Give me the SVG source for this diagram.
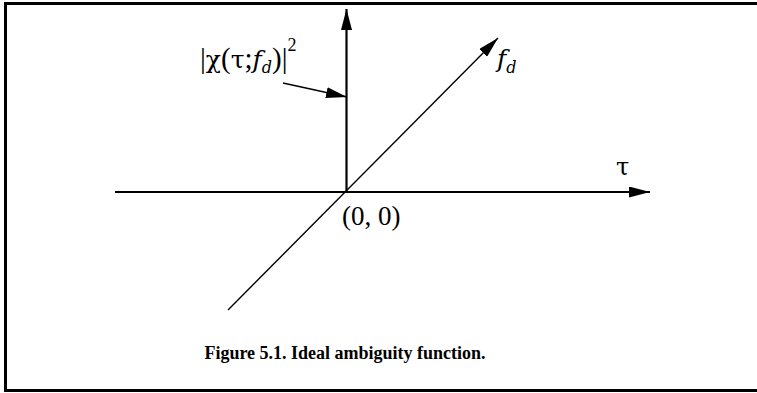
<svg xmlns="http://www.w3.org/2000/svg" width="757" height="393" viewBox="0 0 757 393">
<style>
.t{font-family:"Liberation Serif",serif;fill:#000}
.g{font-family:"DejaVu Serif",serif}
.ax{stroke:#000;stroke-width:2.2;fill:none}
.th{stroke:#000;stroke-width:1.4;fill:none}
</style>
<defs>
<marker id="ah" viewBox="0 0 21 11" refX="21" refY="5.5" markerWidth="21" markerHeight="11" markerUnits="userSpaceOnUse" orient="auto">
<path d="M0,0 L21,5.5 L0,11 z" fill="#000"/>
</marker>
</defs>
<rect width="757" height="393" fill="#fff"/>
<path d="M757,3.5 H5.5 V390.5 H757" fill="none" stroke="#000" stroke-width="3"/>
<g id="connectors">
<line class="ax" x1="115" y1="192" x2="650" y2="192" marker-end="url(#ah)"/>
<line class="ax" x1="346.5" y1="192" x2="346.5" y2="9" marker-end="url(#ah)"/>
<line class="th" x1="228" y1="310" x2="498" y2="38" marker-end="url(#ah)"/>
<line class="th" x1="283" y1="83" x2="347" y2="97" marker-end="url(#ah)"/>
</g>
<g id="label-chi">
<text class="t" x="200" y="68" font-size="29">|<tspan class="g" font-size="25">χ</tspan>(<tspan class="g" font-size="25">τ</tspan>;<tspan class="g" font-style="italic" font-size="25">f</tspan><tspan class="g" font-style="italic" font-size="16" dy="5">d</tspan><tspan dy="-5">)|</tspan><tspan font-size="18" dy="-17">2</tspan></text>
</g>
<g id="label-fd">
<text class="t g" x="497" y="67" font-size="25" font-style="italic">f<tspan font-size="16" dy="6">d</tspan></text>
</g>
<g id="label-tau">
<text class="t g" x="616" y="175" font-size="24">τ</text>
</g>
<g id="label-origin">
<text class="t" x="342" y="225" font-size="27">(0, 0)</text>
</g>
<g id="caption">
<text class="t" x="345" y="359" font-size="18" font-weight="bold" text-anchor="middle">Figure 5.1. Ideal ambiguity function.</text>
</g>
</svg>
